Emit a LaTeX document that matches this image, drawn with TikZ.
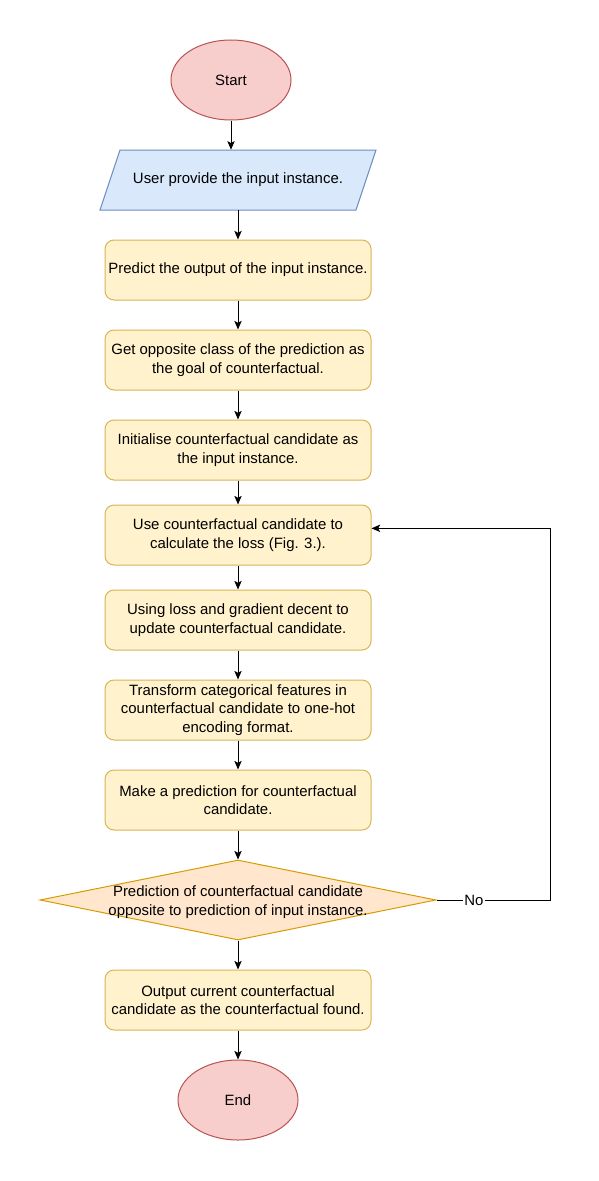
\documentclass[tikz,border=0pt]{standalone}
\usepackage{fontspec}
\setmainfont{Liberation Sans}
\usetikzlibrary{arrows.meta,shapes.geometric}
\definecolor{termfill}{HTML}{F8CECC}
\definecolor{termdraw}{HTML}{B85450}
\definecolor{iofill}{HTML}{DAE8FC}
\definecolor{iodraw}{HTML}{6C8EBF}
\definecolor{procfill}{HTML}{FFF2CC}
\definecolor{procdraw}{HTML}{D6B656}
\definecolor{decfill}{HTML}{FFE6CC}
\definecolor{decdraw}{HTML}{D79B00}
\tikzset{
  txt/.style={font=\fontsize{11.2}{14}\selectfont, align=center},
  terminal/.style={txt, ellipse, draw=termdraw, fill=termfill, line width=0.75pt,
    minimum width=90pt, minimum height=60pt, inner sep=0pt},
  process/.style={txt, rectangle, rounded corners=6.75pt, draw=procdraw, fill=procfill,
    line width=0.75pt, minimum width=199.5pt, minimum height=45pt, inner sep=0pt},
  decision/.style={diamond, draw=decdraw, fill=decfill, line width=0.75pt,
    minimum width=297pt, minimum height=60pt, inner sep=0pt},
  flow/.style={-{Stealth[length=6.5pt,width=5.5pt,inset=1.5pt]}, line width=0.75pt},
}
\begin{document}
\begin{tikzpicture}[x=0.75pt, y=-0.75pt]
  \useasboundingbox (0,0) rectangle (599,1181);
  \node[terminal] (start) at (231,80) {Start};
  \draw[draw=iodraw, fill=iofill, line width=0.75pt]
    (120,150) -- (376,150) -- (356,210) -- (100,210) -- cycle;
  \node[txt, minimum width=192pt, minimum height=45pt, inner sep=0pt] (input) at (238,180)
    {User provide the input instance.};
  \node[process] (predict) at (238,270) {Predict the output of the input instance.};
  \node[process] (goal) at (238,360) {Get opposite class of the prediction as\\the goal of counterfactual.};
  \node[process] (init) at (238,450) {Initialise counterfactual candidate as\\the input instance.};
  \node[process] (loss) at (238,535) {Use counterfactual candidate to\\calculate the loss (Fig. 3.).};
  \node[process] (update) at (238,620) {Using loss and gradient decent to\\update counterfactual candidate.};
  \node[process] (onehot) at (238,710) {Transform categorical features in\\counterfactual candidate to one-hot\\encoding format.};
  \node[process] (repredict) at (238,800) {Make a prediction for counterfactual\\candidate.};
  \node[decision] (check) at (238,900) {};
  \node[txt, inner sep=0pt] (checktext) at (238,902)
    {Prediction of counterfactual candidate\\opposite to prediction of input instance.};
  \node[process] (found) at (238,1000) {Output current counterfactual\\candidate as the counterfactual found.};
  \node[terminal] (end) at (238,1100) {End};
  \coordinate (corner) at (550,900);
  \begin{scope}[flow]
    \draw (start.south) -- (start.south |- input.north);
    \draw (input) -- (predict);
    \draw (predict) -- (goal);
    \draw (goal) -- (init);
    \draw (init) -- (loss);
    \draw (loss) -- (update);
    \draw (update) -- (onehot);
    \draw (onehot) -- (repredict);
    \draw (repredict) -- (check);
    \draw (check) -- (found);
    \draw (found) -- (end);
    \draw (check.east) -- node[pos=0.33, txt, fill=white, inner sep=1pt] {No} (corner)
      |- ([yshift=5pt]loss.east);
  \end{scope}
\end{tikzpicture}
\end{document}
